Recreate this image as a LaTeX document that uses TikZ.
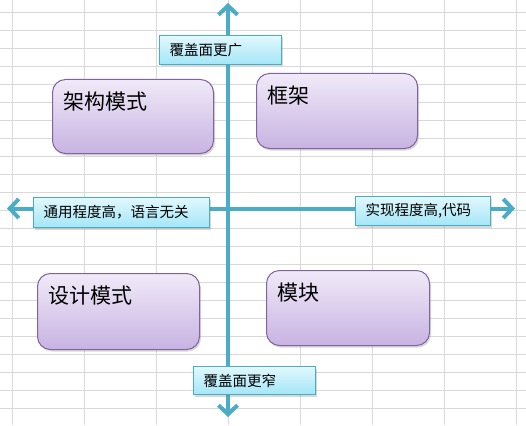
\documentclass[tikz,border=0pt]{standalone}
\usepackage{fontspec}
\setmainfont{Noto Sans CJK SC}
\usetikzlibrary{arrows.meta,shadows}

\definecolor{axisblue}{HTML}{4BACC6}
\definecolor{gridgray}{HTML}{D9D9D9}
\definecolor{quadline}{HTML}{8064A2}
\definecolor{quadtop}{HTML}{F0EAF8}
\definecolor{quadbottom}{HTML}{C8B3E2}
\definecolor{tagtop}{HTML}{E2F8FD}
\definecolor{tagbottom}{HTML}{A3E6F7}

\begin{document}
\begin{tikzpicture}[x=1pt, y=-1pt,
    grid/.style={gridgray, line width=1pt},
    axis/.style={axisblue, line width=4pt, {Straight Barb[length=9pt,width=19pt]}-{Straight Barb[length=9pt,width=19pt]}},
    quad/.style={draw=quadline, line width=1pt, rounded corners=13pt, top color=quadtop, bottom color=quadbottom,
        drop shadow={shadow xshift=1.5pt, shadow yshift=-2pt, opacity=0.3},
        anchor=north west, inner ysep=0pt, inner xsep=11pt, align=left, font=\fontsize{21}{21}\selectfont,
        text height=30pt},
    tag/.style={draw=axisblue, line width=1pt, top color=tagtop, bottom color=tagbottom,
        drop shadow={shadow xshift=1.5pt, shadow yshift=-2pt, opacity=0.3},
        anchor=north west, inner xsep=10pt, minimum height=29pt, align=left, text width=#1,
        font=\fontsize{14.5}{14.5}\selectfont}
]
            \def\W{526}
            \def\H{425}
            \useasboundingbox (0,0) rectangle (\W,\H);
            \fill[white] (0,0) rectangle (\W,\H);

            \foreach \gx in {12,84,...,516}
                \draw[grid] (\gx,0) -- (\gx,\H);
            \foreach \k in {0,...,22}
                \draw[grid] (0,12.7+18*\k) -- (\W,12.7+18*\k);

            \coordinate (up) at (228,3);
            \coordinate (down) at (228,417);
            \coordinate (west) at (7,208.5);
            \coordinate (east) at (515,208.5);
            \draw[axis] (down) -- (up);
            \draw[axis] (west) -- (east);

            \node[quad, text width=139pt, text depth=44pt] (pattern) at (52,79) {架构模式};
            \node[quad, text width=139pt, text depth=45pt] (framework) at (256,73) {框架};
            \node[quad, text width=140pt, text depth=46pt] (design) at (37,273) {设计模式};
            \node[quad, text width=141pt, text depth=45pt] (module) at (266,270) {模块};

            \node[tag=102pt] (wider) at (159,35) {覆盖面更广};
            \node[tag=156pt, minimum height=30pt] (generic) at (33,197) {通用程度高，语言无关};
            \node[tag=115pt] (concrete) at (355,196) {实现程度高,代码};
            \node[tag=102pt, minimum height=28pt] (narrower) at (193,366) {覆盖面更窄};

        \end{tikzpicture}
\end{document}
